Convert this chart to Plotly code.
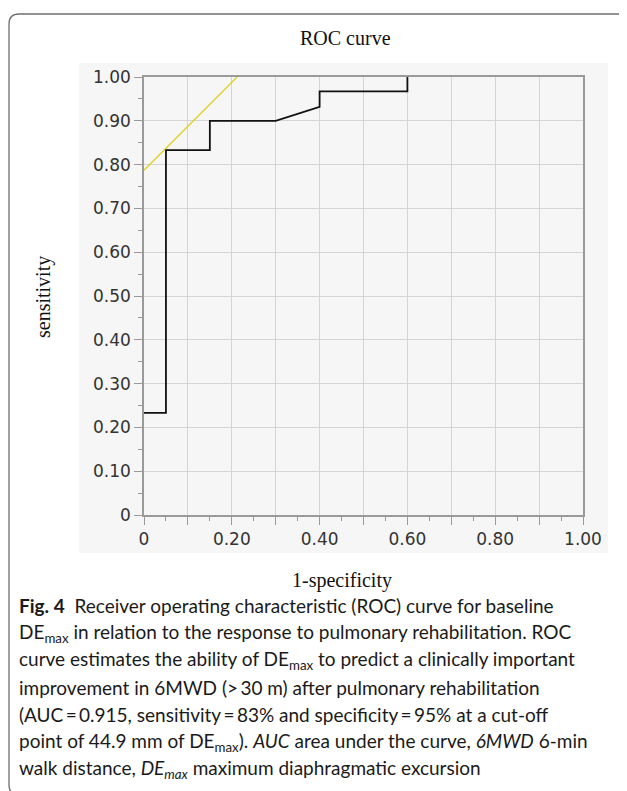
import plotly.graph_objects as go

# ROC curve data (1-specificity, sensitivity)
fpr = [0.0, 0.05, 0.05, 0.15, 0.15, 0.30, 0.40, 0.40, 0.60, 0.60]
tpr = [0.233, 0.233, 0.833, 0.833, 0.90, 0.90, 0.932, 0.967, 0.967, 1.0]

# tangent (cut-off) line
tan_x = [0.0, 0.212]
tan_y = [0.787, 1.0]

x_tickvals = [0, 0.1, 0.2, 0.3, 0.4, 0.5, 0.6, 0.7, 0.8, 0.9, 1.0]
x_ticktext = ["0", "", "0.20", "", "0.40", "", "0.60", "", "0.80", "", "1.00"]
y_tickvals = [0, 0.1, 0.2, 0.3, 0.4, 0.5, 0.6, 0.7, 0.8, 0.9, 1.0]
y_ticktext = ["0", "0.10", "0.20", "0.30", "0.40", "0.50", "0.60", "0.70", "0.80", "0.90", "1.00"]

title_text = "ROC curve"
x_title = "1-specificity"
y_title = "sensitivity"
caption_lines = [
    "<b>Fig. 4</b>  Receiver operating characteristic (ROC) curve for baseline",
    "DE<sub>max</sub> in relation to the response to pulmonary rehabilitation. ROC",
    "curve estimates the ability of DE<sub>max</sub> to predict a clinically important",
    "improvement in 6MWD (&gt;\u200930 m) after pulmonary rehabilitation",
    "(AUC\u2009=\u20090.915, sensitivity\u2009=\u200983% and specificity\u2009=\u200995% at a cut-off",
    "point of 44.9 mm of DE<sub>max</sub>). <i>AUC</i> area under the curve, <i>6MWD</i> 6-min",
    "walk distance, <i>DE<sub>max</sub></i> maximum diaphragmatic excursion",
]

PAGE_W, PAGE_H = 627, 791
OFF = 8  # browser body margin
W, H = PAGE_W - OFF, PAGE_H - OFF
L, R, T, B = 144, 583, 77, 515  # plot area in page pixels


def px(xp):
    return (xp - L) / (R - L)


def py(yp):
    return (B - yp) / (B - T)


fig = go.Figure()
fig.add_trace(go.Scatter(x=tan_x, y=tan_y, mode="lines",
                         line=dict(color="#e3cf1e", width=1.3), hoverinfo="skip"))
fig.add_trace(go.Scatter(x=fpr, y=tpr, mode="lines",
                         line=dict(color="#111111", width=1.8), hoverinfo="skip"))

axis_common = dict(
    range=[0, 1], showgrid=True, gridcolor="#d4d4d4", gridwidth=1,
    showline=True, linecolor="#9a9a9a", linewidth=1.5, mirror=True,
    ticks="outside", ticklen=8, tickcolor="#9a9a9a", tickwidth=1.3,
    tickfont=dict(family="DejaVu Sans, Verdana, sans-serif", size=17, color="#333333"),
    zeroline=False, tickmode="array", fixedrange=True,
    minor=dict(tickmode="linear", tick0=0.05, dtick=0.1, ticks="outside",
               ticklen=4, tickcolor="#9a9a9a", tickwidth=1.3, showgrid=False),
)

fig.update_xaxes(tickvals=x_tickvals, ticktext=x_ticktext, **axis_common)
fig.update_yaxes(tickvals=y_tickvals, ticktext=y_ticktext, **axis_common)

shapes = []
# light grey chart panel
shapes.append(dict(type="rect", xref="paper", yref="paper", layer="below",
                   x0=px(79), x1=px(608), y0=py(553), y1=py(63),
                   fillcolor="#f6f6f6", line=dict(width=0)))
# outer rounded border
x0b, x1b, y0b, y1b, r = 9, 640, 14, 795, 10
path = (f"M {px(x0b)},{py(y0b + r)} "
        f"Q {px(x0b)},{py(y0b)} {px(x0b + r)},{py(y0b)} "
        f"L {px(x1b)},{py(y0b)} "
        f"M {px(x0b)},{py(y0b + r)} "
        f"L {px(x0b)},{py(y1b - r)} "
        f"Q {px(x0b)},{py(y1b)} {px(x0b + r)},{py(y1b)} "
        f"L {px(x1b)},{py(y1b)}")
shapes.append(dict(type="path", xref="paper", yref="paper", path=path,
                   line=dict(color="#6e6e6e", width=1.3)))

annotations = [
    dict(text=title_text, x=px(345), y=py(38), xref="paper", yref="paper",
         showarrow=False, xanchor="center", yanchor="middle",
         font=dict(family="Liberation Serif", size=20, color="#111111")),
    dict(text=x_title, x=px(342), y=py(580), xref="paper", yref="paper",
         showarrow=False, xanchor="center", yanchor="middle",
         font=dict(family="Liberation Serif", size=20, color="#111111")),
    dict(text=y_title, x=px(43), y=py(297), xref="paper", yref="paper",
         showarrow=False, xanchor="center", yanchor="middle", textangle=-90,
         font=dict(family="Liberation Serif", size=20, color="#111111")),
]
line_y = [605, 633, 660, 687, 714, 742, 769]
for txt, yy in zip(caption_lines, line_y):
    annotations.append(dict(text=txt, x=px(17), y=py(yy), xref="paper", yref="paper",
                            showarrow=False, xanchor="left", yanchor="middle", align="left",
                            font=dict(family="Lato", size=19, color="#1a1a1a")))

fig.update_layout(
    width=W, height=H, showlegend=False,
    margin=dict(l=L - OFF, r=PAGE_W - R, t=T - OFF, b=PAGE_H - B, pad=0),
    paper_bgcolor="white", plot_bgcolor="white",
    shapes=shapes, annotations=annotations,
)

fig.write_html("out.html")
